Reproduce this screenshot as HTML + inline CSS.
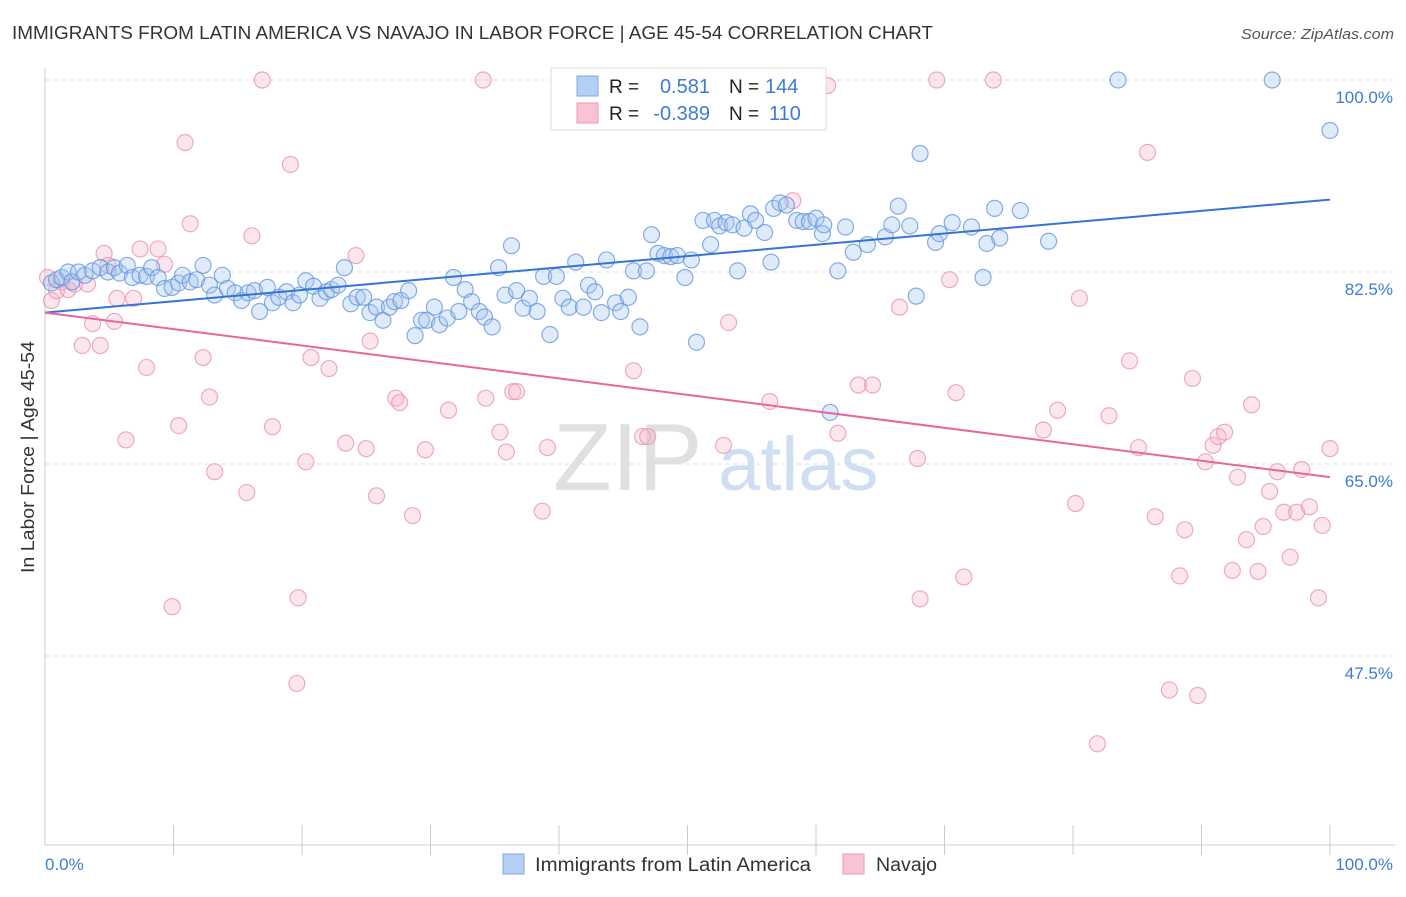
<!DOCTYPE html>
<html><head><meta charset="utf-8"><style>
body{margin:0;background:#fff;font-family:"Liberation Sans",sans-serif}
svg text{font-family:"Liberation Sans",sans-serif}
</style></head><body>
<svg id="chart" width="1406" height="892" viewBox="0 0 1406 892">
<text x="12" y="39" font-size="18" fill="#333" textLength="921" lengthAdjust="spacingAndGlyphs">IMMIGRANTS FROM LATIN AMERICA VS NAVAJO IN LABOR FORCE | AGE 45-54 CORRELATION CHART</text>
<text x="1394" y="39" font-size="15" fill="#555" text-anchor="end" font-style="italic" textLength="153" lengthAdjust="spacingAndGlyphs">Source: ZipAtlas.com</text>
<g><text x="553" y="490" font-size="96" fill="#d9d9d9" font-family="Liberation Serif" opacity="0.8">ZIP</text><text x="718" y="490" font-size="76" fill="#c5d7f0" opacity="0.8">atlas</text></g>
<g id="grid"></g><g id="axes"></g><g id="marks"></g><g id="trends"></g>
<text transform="translate(34,457) rotate(-90)" font-size="18" fill="#333" text-anchor="middle" textLength="232" lengthAdjust="spacingAndGlyphs">In Labor Force | Age 45-54</text>
<text x="45" y="870" font-size="17" fill="#3d7bd9">0.0%</text>
<text x="1393" y="870" font-size="17" fill="#3d7bd9" text-anchor="end">100.0%</text>
<g>
<rect x="551" y="68" width="275" height="62" fill="#fff" stroke="#ddd"/>
<rect x="577" y="76" width="21" height="20" fill="#b3cff3" stroke="#7ea9e6"/>
<rect x="577" y="103" width="21" height="20" fill="#f8c3d3" stroke="#ee99b5"/>
<text x="609" y="93" font-size="19" fill="#222">R =</text><text x="710" y="93" font-size="20" fill="#3d7bd9" text-anchor="end">0.581</text>
<text x="729" y="93" font-size="19" fill="#222">N =</text><text x="765" y="93" font-size="20" fill="#3d7bd9">144</text>
<text x="609" y="120" font-size="19" fill="#222">R =</text><text x="710" y="120" font-size="20" fill="#3d7bd9" text-anchor="end">-0.389</text>
<text x="729" y="120" font-size="19" fill="#222">N =</text><text x="769" y="120" font-size="20" fill="#3d7bd9">110</text>
</g>
<g>
<rect x="503" y="854" width="21" height="20" fill="#b3cff3" stroke="#7ea9e6"/>
<text x="535" y="871" font-size="19" fill="#333" textLength="276" lengthAdjust="spacingAndGlyphs">Immigrants from Latin America</text>
<rect x="843" y="854" width="21" height="20" fill="#f8c3d3" stroke="#ee99b5"/>
<text x="876" y="871" font-size="19" fill="#333" textLength="61" lengthAdjust="spacingAndGlyphs">Navajo</text>
</g>
</svg>
<script>
const yTicks=[100,82.5,65,47.5];
const yTickLabels=["100.0%","82.5%","65.0%","47.5%"];
const blueX=[0.5,0.9,1.3,1.8,2.1,2.6,3.1,3.7,4.3,4.9,5.4,5.8,6.4,6.8,7.4,7.9,8.3,8.8,9.3,9.9,10.4,10.7,11.3,11.8,12.3,12.8,13.2,13.8,14.2,14.8,15.3,15.8,16.3,16.7,17.3,17.7,18.2,18.8,19.3,19.8,20.3,20.9,21.4,21.9,22.3,22.8,23.3,23.8,24.3,24.8,25.3,25.8,26.3,26.8,27.2,27.7,28.3,28.8,29.3,29.7,30.3,30.7,31.3,31.8,32.2,32.7,33.2,33.8,34.2,34.8,35.3,35.8,36.3,36.7,37.2,37.7,38.3,38.8,39.3,39.8,40.3,40.8,41.3,41.9,42.3,42.8,43.3,43.7,44.4,44.8,45.4,45.8,46.3,46.8,47.2,47.7,48.2,48.7,49.2,49.8,50.3,50.7,51.2,51.8,52.1,52.5,53.0,53.5,53.9,54.4,54.9,55.3,56.0,56.5,56.7,57.2,57.7,58.5,59.0,59.5,60.0,60.5,60.6,61.1,61.7,62.3,62.9,64.0,65.4,65.9,66.4,67.3,67.8,68.1,69.3,69.6,70.6,72.1,73.0,73.3,73.9,74.3,75.9,78.1,83.5,95.5,100];
const blueY=[81.5,81.8,82.0,82.5,81.6,82.5,82.2,82.6,82.9,82.5,82.9,82.4,83.1,82.0,82.2,82.1,82.9,82.0,81.0,81.1,81.5,82.2,81.6,81.8,83.1,81.3,80.4,82.2,81.0,80.6,79.9,80.6,80.8,78.9,81.1,79.7,80.2,80.7,79.7,80.4,81.7,81.2,80.1,80.7,80.9,81.3,82.9,79.6,80.2,80.2,78.8,79.3,78.1,79.3,79.8,79.9,80.8,76.7,78.1,78.1,79.3,77.7,78.3,82.0,78.9,80.9,79.8,78.9,78.4,77.5,82.9,80.4,84.9,80.8,79.2,80.1,78.9,82.1,76.8,82.1,80.1,79.3,83.4,79.3,81.3,80.7,78.8,83.6,79.7,78.9,80.2,82.6,77.5,82.6,85.9,84.2,84.0,83.9,84.0,82.0,83.6,76.1,87.2,85.0,87.2,86.7,87.0,86.8,82.6,86.5,87.8,87.2,86.1,83.4,88.3,88.8,88.6,87.2,87.1,87.1,87.4,86.0,86.8,69.7,82.6,86.6,84.3,85.0,85.7,86.8,88.5,86.7,80.3,93.3,85.2,86.0,87.0,86.6,82.0,85.1,88.3,85.6,88.1,85.3,100,100,95.4];
const pinkX=[0.2,0.5,0.9,1.3,1.8,2.3,2.9,3.3,3.7,4.3,4.6,4.9,5.4,5.6,6.3,6.9,7.4,7.9,8.8,9.3,9.9,10.4,10.9,11.3,12.3,12.8,13.2,15.7,16.1,16.9,17.7,19.1,19.6,19.7,20.3,20.7,22.1,23.4,24.2,25.0,25.3,25.8,27.3,27.6,28.6,29.6,31.4,34.1,34.3,35.4,35.9,36.4,36.7,38.7,39.1,40.5,45.8,46.5,46.9,52.4,52.8,53.2,56.4,58.2,60.9,61.7,63.3,64.4,66.5,67.9,68.1,69.4,70.4,70.9,71.5,73.8,77.7,78.8,80.2,80.5,81.9,82.8,84.4,85.1,85.8,86.4,87.5,88.3,88.7,89.7,89.3,90.3,90.9,91.3,91.8,92.4,92.8,93.5,93.9,94.4,94.8,95.3,95.9,96.4,96.9,97.4,97.8,98.4,99.1,99.4,100];
const pinkY=[82.0,79.9,80.8,81.6,80.9,81.4,75.8,81.4,77.8,75.8,84.2,83.1,78.0,80.1,67.2,80.1,84.6,73.8,84.6,83.2,52.0,68.5,94.3,86.9,74.7,71.1,64.3,62.4,85.8,100,68.4,92.3,45.0,52.8,65.2,74.7,73.7,66.9,84.0,66.4,76.2,62.1,71.0,70.6,60.3,66.3,69.9,100,71.0,67.9,66.1,71.6,71.6,60.7,66.5,100,73.5,67.5,67.5,100,66.7,77.9,70.7,89.0,99.5,67.8,72.2,72.2,79.3,65.5,52.7,100,81.8,71.5,54.7,100,68.1,69.9,61.4,80.1,39.5,69.4,74.4,66.5,93.4,60.2,44.4,54.8,59.0,43.9,72.8,65.2,66.7,67.5,67.9,55.3,63.8,58.1,70.4,55.2,59.3,62.5,64.3,60.6,56.5,60.6,64.5,61.1,52.8,59.4,66.4];
const blueTrend=[78.8,89.1];
const pinkTrend=[78.8,63.8];

const NS="http://www.w3.org/2000/svg";
const X0=45,X1=1330,YT=80,YPX=192/17.5;
const sx=v=>X0+(X1-X0)*v/100;
const sy=v=>YT+(100-v)*YPX;
function mk(tag,attrs,parent){const e=document.createElementNS(NS,tag);for(const k in attrs)e.setAttribute(k,attrs[k]);parent.appendChild(e);return e;}
const grid=document.getElementById('grid'),axes=document.getElementById('axes'),marks=document.getElementById('marks'),trends=document.getElementById('trends');
yTicks.forEach((t,i)=>{
  const l=mk('line',{x1:X0,x2:1395,y1:sy(t),y2:sy(t),stroke:'#ddd','stroke-dasharray':'4,4'},grid);
  
  
  const tx=mk('text',{x:1393,y:sy(t)+23,'font-size':17,fill:'#3d7bd9','text-anchor':'end'},grid);
  tx.textContent=yTickLabels[i];
  
  
});
const ya=mk('line',{x1:X0,x2:X0,y1:68,y2:845,stroke:'#ccc'},axes);


const xa=mk('line',{x1:X0,x2:1395,y1:845,y2:845,stroke:'#ccc'},axes);


for(let i=1;i<=10;i++){
  const t=mk('line',{x1:sx(i*10),x2:sx(i*10),y1:825,y2:855,stroke:'#ccc'},axes);
  
  
}
function dots(xs,ys,fill,stroke,name){
  xs.forEach((x,i)=>{
    const c=mk('circle',{cx:sx(x),cy:sy(ys[i]),r:8,fill:fill,'fill-opacity':0.35,stroke:stroke,'stroke-width':1.2,'stroke-opacity':0.75},marks);
    
    
  });
}
dots(pinkX,pinkY,'#f6b6ca','#ea8fb0','navajo-point');
dots(blueX,blueY,'#a6c5ef','#5f93de','immigrants-point');
const bl=mk('line',{x1:sx(0),y1:sy(blueTrend[0]),x2:sx(100),y2:sy(blueTrend[1]),stroke:'#3474d6','stroke-width':2},trends);


const pl=mk('line',{x1:sx(0),y1:sy(pinkTrend[0]),x2:sx(100),y2:sy(pinkTrend[1]),stroke:'#e8669a','stroke-width':2},trends);


</script>
</body></html>
